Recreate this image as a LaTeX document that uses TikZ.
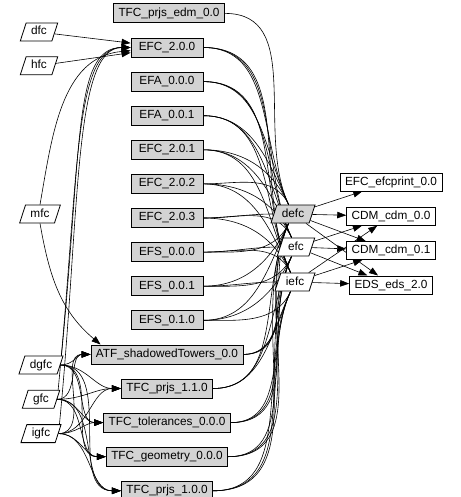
\documentclass[tikz,border=0pt]{standalone}
\usepackage{fontspec}
\setmainfont{Liberation Sans}
\usetikzlibrary{positioning, arrows.meta, shapes.geometric, backgrounds}
\definecolor{pkggray}{HTML}{D3D3D3}

\begin{document}
\begin{tikzpicture}[
  x=1pt, y=-1pt,
  >={Triangle[length=9pt, width=6.5pt]},
  every node/.style={font=\fontsize{11.8}{13}\selectfont},
  pkg/.style  = {draw, line width=0.8pt, inner xsep=5pt, inner ysep=1pt, minimum height=19pt, minimum width=72pt},
  gbox/.style = {pkg, fill=pkggray},
  wbox/.style = {pkg, minimum height=18pt, minimum width=0pt, fill=white},
  para/.style = {draw, line width=0.8pt, trapezium, trapezium left angle=72, trapezium right angle=108,
                 text height=8.5pt, text depth=2.5pt, inner xsep=5pt, inner ysep=3.5pt, fill=white},
  dep/.style  = {line width=0.6pt},
  use/.style  = {->, line width=0.6pt},
]
  \useasboundingbox (0,0) rectangle (460,497);

  % Gray column: versioned packages, one under the other.
  \node[gbox]                                 (efc200)  at (167,47.5) {EFC\_2.0.0};
  \node[gbox, above=14.3pt of efc200, xshift=2pt] (tfcedm) {TFC\_prjs\_edm\_0.0};
  \node[gbox, below=14.3pt of efc200]         (efa000)  {EFA\_0.0.0};
  \node[gbox, below=14.3pt of efa000]         (efa001)  {EFA\_0.0.1};
  \node[gbox, below=14.3pt of efa001]         (efc201)  {EFC\_2.0.1};
  \node[gbox, below=14.3pt of efc201]         (efc202)  {EFC\_2.0.2};
  \node[gbox, below=14.3pt of efc202]         (efc203)  {EFC\_2.0.3};
  \node[gbox, below=14.3pt of efc203]         (efs000)  {EFS\_0.0.0};
  \node[gbox, below=14.3pt of efs000]         (efs001)  {EFS\_0.0.1};
  \node[gbox, below=14.3pt of efs001]         (efs010)  {EFS\_0.1.0};
  \node[gbox, below=14.3pt of efs010]         (atf)     {ATF\_shadowedTowers\_0.0};
  \node[gbox, below=14.3pt of atf]            (prjs110) {TFC\_prjs\_1.1.0};
  \node[gbox, below=14.3pt of prjs110]        (tol)     {TFC\_tolerances\_0.0.0};
  \node[gbox, below=14.3pt of tol]            (geom)    {TFC\_geometry\_0.0.0};
  \node[gbox, below=14.3pt of geom]           (prjs100) {TFC\_prjs\_1.0.0};

  % Left: the users.
  \node[para]                        (dfc)  at (39,32)  {dfc};
  \node[para, below=15pt of dfc]     (hfc)              {hfc};
  \node[para]                        (mfc)  at (40,214) {mfc};
  \node[para]                        (dgfc) at (41,365) {dgfc};
  \node[para, below=15.5pt of dgfc]  (gfc)              {gfc};
  \node[para, below=15.5pt of gfc]   (igfc)             {igfc};

  % Middle: build nodes.
  \node[para, fill=pkggray] (defc) at (293,214) {defc};
  \node[para]               (efc)  at (296,247) {efc};
  \node[para]               (iefc) at (295,282) {iefc};

  % Right: external packages.
  \node[wbox]                         (print) at (391,182) {EFC\_efcprint\_0.0};
  \node[wbox, below=15.5pt of print]  (cdm00)              {CDM\_cdm\_0.0};
  \node[wbox, below=15.5pt of cdm00]  (cdm01)              {CDM\_cdm\_0.1};
  \node[wbox, below=15.5pt of cdm01]  (eds)                {EDS\_eds\_2.0};

  \begin{scope}[on background layer]
  % users -> versioned packages
  \draw[use] (dfc) -- (efc200);
  \draw[use] (hfc) -- (efc200);
  \draw[use] (mfc.north) to[out=80, in=185] (efc200);
  \draw[use] (mfc.south) to[out=-80, in=140] ([xshift=10pt]atf.north west);
  \foreach \a in {dgfc,gfc,igfc} {
    \draw[use] (\a.east) .. controls +(22,-220) and +(-58,0) .. (efc200.west);
    \foreach \b in {atf,prjs110,tol,geom,prjs100}
      \draw[use] (\a) to[out=0, in=180] (\b);
  }

  % versioned packages -> build nodes
  \foreach \s in {efc200,efa000,efa001,efc201,efc202}
    \foreach \t in {defc,efc,iefc}
      \draw[dep] (\s.east) to[out=0, in=115] (\t);
  \foreach \s in {efs010,atf,prjs110,tol,geom,prjs100}
    \foreach \t in {defc,efc,iefc}
      \draw[dep] (\s.east) to[out=0, in=245] (\t);
  \foreach \s/\t/\i in {tfcedm/defc/115, efc203/defc/180, efc203/efc/115, efc203/iefc/115,
                        efs000/defc/245, efs000/efc/180, efs000/iefc/115,
                        efs001/defc/245, efs001/efc/245, efs001/iefc/180}
    \draw[dep] (\s.east) to[out=0, in=\i] (\t);

  % build nodes -> external packages
  \foreach \a/\b in {defc/print, defc/cdm00, defc/cdm01, defc/eds,
                     efc/cdm00, efc/cdm01, efc/eds,
                     iefc/cdm00, iefc/cdm01, iefc/eds}
    \draw[use] (\a) -- (\b);
  \end{scope}
\end{tikzpicture}
\end{document}
